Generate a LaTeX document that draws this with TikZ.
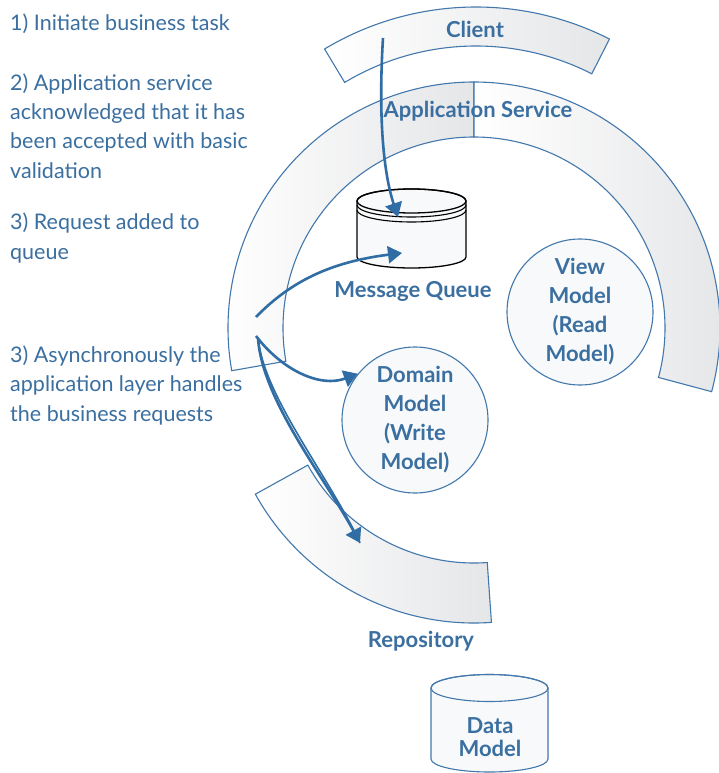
\documentclass[tikz,border=0pt]{standalone}
\usepackage{fontspec}
\setmainfont{Lato}
\usetikzlibrary{arrows.meta,calc}
\definecolor{appblue}{RGB}{58,111,160}
\definecolor{arrblue}{RGB}{47,109,164}
\definecolor{edgeblue}{RGB}{66,120,172}
\definecolor{bandgrey}{RGB}{229,230,232}
\definecolor{paleface}{RGB}{247,249,250}

\begin{document}
\begin{tikzpicture}[x=1pt,y=1pt,
    band/.style={draw=edgeblue,line width=1.1pt,left color=white,right color=bandgrey},
    bubble/.style={circle,draw=edgeblue,line width=1.1pt,fill=paleface,minimum size=146pt,inner sep=0pt},
    lbl/.style={text=appblue,font=\fontsize{22}{29}\selectfont\bfseries,align=center},
    note/.style={text=appblue,font=\fontsize{21.5}{29.3}\selectfont,align=left,anchor=base west,inner sep=0pt},
    flow/.style={draw=arrblue,line width=2.6pt,-{Triangle[length=14pt,width=17pt]}}]
  \useasboundingbox (0,0) rectangle (719,-773);
  \fill[white] (0,0) rectangle (719,-773);
  \coordinate (cc) at (476,-301);
  \coordinate (sc) at (474,-328);
  \coordinate (rc) at (474,-373);

  % bands
  \path[band] ($(cc)+(121:294pt)$) arc[start angle=121,end angle=63,radius=294pt]
    -- ($(cc)+(63:255pt)$) arc[start angle=63,end angle=121,radius=255pt] -- cycle;
  \path[band] ($(sc)+(190:246pt)$) arc[start angle=190,end angle=90,radius=246pt]
    -- ($(sc)+(90:191pt)$) arc[start angle=90,end angle=190,radius=191pt] -- cycle;
  \path[band] ($(sc)+(90:246pt)$) arc[start angle=90,end angle=-15,radius=246pt]
    -- ($(sc)+(-15:191pt)$) arc[start angle=-15,end angle=90,radius=191pt] -- cycle;
  \path[band] ($(rc)+(209:250pt)$) arc[start angle=209,end angle=274,radius=250pt]
    -- ($(rc)+(274:190pt)$) arc[start angle=274,end angle=209,radius=190pt] -- cycle;

  % message queue
  \draw[black,line width=1.3pt,fill=paleface] (357,-201) -- (357,-257)
    arc[start angle=180,end angle=360,x radius=54.5pt,y radius=11pt] -- (466,-201)
    arc[start angle=0,end angle=180,x radius=54.5pt,y radius=12pt] -- cycle;
  \draw[black,line width=1.3pt] (411.5,-201) ellipse[x radius=54.5pt,y radius=12pt];
  \draw[black,line width=1.1pt] (357,-205) arc[start angle=180,end angle=360,x radius=54.5pt,y radius=12pt];
  \draw[black,line width=1.1pt] (357,-210) arc[start angle=180,end angle=360,x radius=54.5pt,y radius=12pt];
  \coordinate (mqtop) at (398,-217);
  \coordinate (mqin) at (402,-253);

  % data model
  \draw[edgeblue,line width=1.1pt,fill=paleface] (431,-688) -- (431,-759)
    arc[start angle=180,end angle=360,x radius=58.5pt,y radius=13pt] -- (548,-688)
    arc[start angle=0,end angle=180,x radius=58.5pt,y radius=13.5pt] -- cycle;
  \draw[edgeblue,line width=1.1pt] (489.5,-688) ellipse[x radius=58.5pt,y radius=13.5pt];

  % models
  \node[bubble,lbl] (vm) at (580,-312) {View\\Model\\(Read\\Model)};
  \node[bubble,lbl] (dm) at (415,-420) {Domain\\Model\\(Write\\Model)};

  % labels
  \node[lbl] (cltxt) at (475,-29) {Client};
  \node[lbl] (astxt) at (478,-111) {Application Service};
  \node[lbl] (mqtxt) at (413,-291) {Message Queue};
  \node[lbl] (rptxt) at (421,-641) {Repository};
  \node[lbl,font=\fontsize{22}{23}\selectfont\bfseries] (dmtxt) at (490,-737) {Data\\Model};

  % steps
  \node[note] (n1) at (10,-30.5) {1) Initiate business task};
  \node[note] (n2) at (10,-178) {2) Application service\\acknowledged that it has\\been accepted with basic\\validation};
  \node[note] (n3) at (10,-259) {3) Request added to\\queue};
  \node[note] (n4) at (10,-421) {3) Asynchronously the\\application layer handles\\the business requests};

  % flows
  \coordinate (cl) at (383,-38);
  \coordinate (as1) at (256,-317);
  \coordinate (as2) at (256,-336);
  \coordinate (as3) at (258,-338);
  \coordinate (rp) at (360,-543);
  \draw[flow] (cl) .. controls (378,-120) and (384,-175) .. (mqtop);
  \draw[flow] (as1) .. controls (290,-282) and (330,-262) .. (mqin);
  \draw[flow] (as2) .. controls (282,-370) and (320,-388) .. (dm.141);
  \draw[draw=arrblue,line width=1.6pt] (as3) .. controls (264,-397) and (329,-476) .. (rp);
  \draw[flow] (as3) .. controls (262,-400) and (325,-478) .. (rp);
\end{tikzpicture}
\end{document}
